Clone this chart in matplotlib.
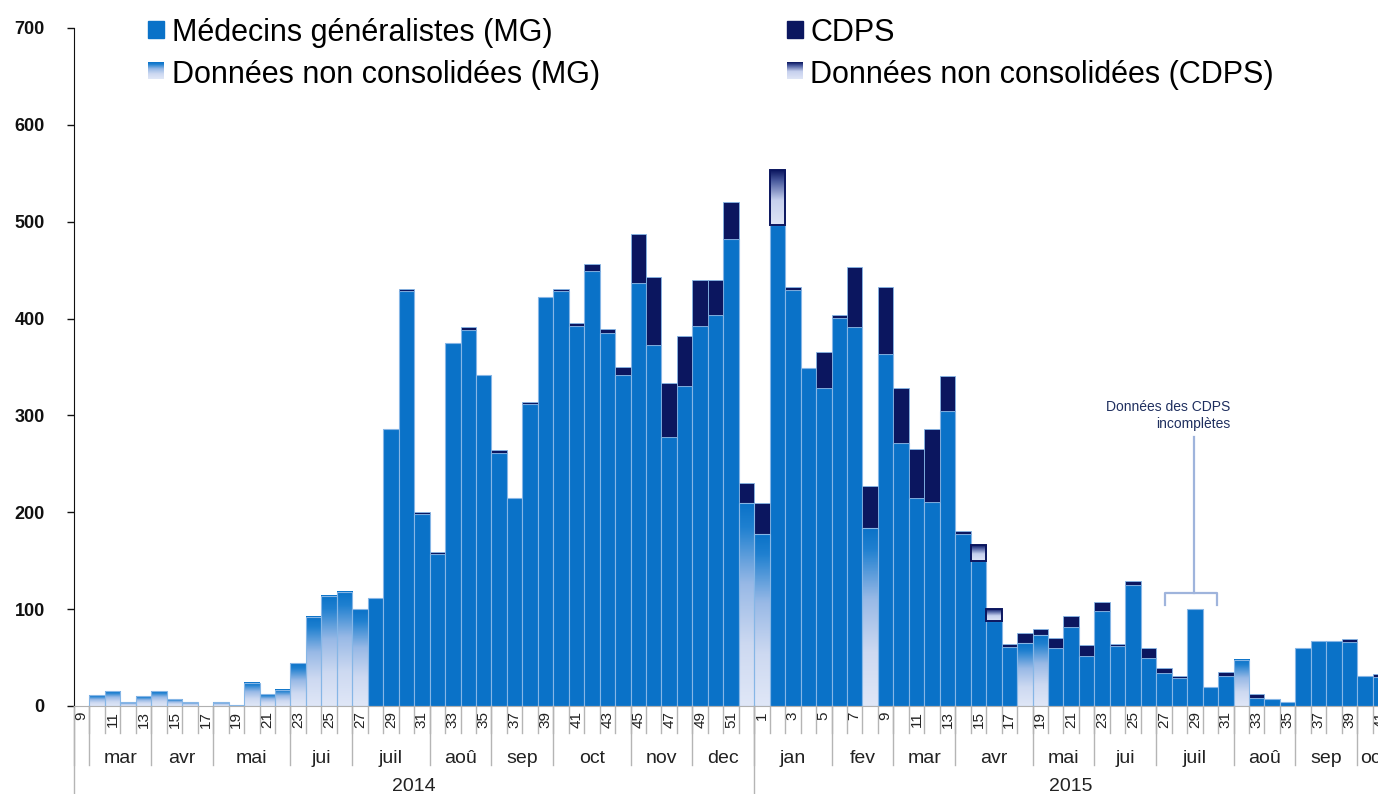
import datetime
import numpy as np
import matplotlib
matplotlib.use('Agg')
import matplotlib.pyplot as plt
from matplotlib.colors import LinearSegmentedColormap
from matplotlib.patches import Rectangle
from matplotlib.transforms import blended_transform_factory

plt.rcParams['font.family'] = ['Liberation Sans', 'DejaVu Sans']

# semaines : 2014-S09 -> 2015-S41
annees = [2014] * 44 + [2015] * 41
semaines = list(range(9, 53)) + list(range(1, 42))
mois_noms = ['jan', 'fev', 'mar', 'avr', 'mai', 'jui', 'juil', 'aoû', 'sep', 'oct', 'nov', 'dec']

# Medecins generalistes (consolide)
mg = [0,
      0, 0, 0, 0, 0, 0, 0, 0, 0, 0, 0, 0, 0, 0, 0, 0, 0, 0,
      112, 286, 428, 198, 157, 375, 388, 342, 261, 215, 312, 422,
      428, 392, 449, 385, 342, 437, 373, 278, 330, 392, 404, 482,
      0,
      # 2015
      0, 497, 430, 349, 328, 401, 391, 0, 363, 272, 215, 211, 305, 178,
      150, 88, 61, 0, 0, 60, 82, 52, 98, 62, 125, 50, 34, 29, 100, 20,
      31, 0, 8, 7, 4, 60, 67, 67, 66, 31, 30]
# Medecins generalistes (donnees non consolidees)
mg_nc = [0,
         11, 15, 4, 10, 15, 7, 4, 0, 4, 1, 24, 12, 17, 44, 92, 114, 118, 100,
         0, 0, 0, 0, 0, 0, 0, 0, 0, 0, 0, 0,
         0, 0, 0, 0, 0, 0, 0, 0, 0, 0, 0, 0,
         210,
         # 2015
         178, 0, 0, 0, 0, 0, 0, 184, 0, 0, 0, 0, 0, 0,
         0, 0, 0, 65, 73, 0, 0, 0, 0, 0, 0, 0, 0, 0, 0, 0,
         0, 48, 0, 0, 0, 0, 0, 0, 0, 0, 0]
# CDPS (consolide)
cdps = [0,
        0, 0, 0, 0, 0, 0, 0, 0, 0, 0, 0, 0, 0, 0, 0, 0, 0, 0,
        0, 0, 3, 2, 2, 0, 3, 0, 3, 0, 2, 0,
        3, 3, 7, 4, 8, 50, 70, 55, 52, 48, 36, 38,
        20,
        # 2015
        32, 0, 3, 0, 37, 3, 62, 43, 70, 56, 50, 75, 36, 3,
        0, 0, 3, 10, 6, 10, 11, 11, 9, 2, 4, 10, 5, 2, 0, 0,
        4, 0, 4, 0, 0, 0, 0, 0, 3, 0, 3]
# CDPS (donnees non consolidees)
cdps_nc = [0] * 44 + [0, 56] + [0] * 12 + [16, 12] + [0] * 25

bleu = '#0a72c8'
marine = '#0b165f'
bord = '#86b6e6'
cm_mg = LinearSegmentedColormap.from_list(
    'mg', [(0, '#e0e7f7'), (0.3, '#cdd9f1'), (0.6, '#98b9e6'), (0.88, '#1f80d0'), (1, bleu)])
cm_cdps = LinearSegmentedColormap.from_list(
    'cdps', [(0, '#dfe5f6'), (0.45, '#c6d0ee'), (0.8, '#4b5c9f'), (1, marine)])

fig = plt.figure(figsize=(13.78, 7.94), dpi=100)
ax = fig.add_axes([74 / 1378, 88 / 794, 1304 / 1378, 678 / 794])

x = np.arange(len(semaines))
mg = np.array(mg)
mg_nc = np.array(mg_nc)
cdps = np.array(cdps)
cdps_nc = np.array(cdps_nc)
base = mg + mg_nc


def barre_degrade(xi, bas, h, cmap, bordure, lw):
    ax.imshow(np.linspace(0, 1, 200).reshape(-1, 1), cmap=cmap, aspect='auto',
              origin='lower', extent=(xi - 0.5, xi + 0.5, bas, bas + h), zorder=2)
    ax.bar(xi, h, bottom=bas, width=1, color='none', edgecolor=bordure, lw=lw, zorder=3)


m = mg > 0
ax.bar(x[m], mg[m], width=1, color=bleu, edgecolor=bord, lw=0.8, zorder=2)
for i in np.where(mg_nc > 0)[0]:
    barre_degrade(i, 0, mg_nc[i], cm_mg, bord, 0.8)
m = cdps > 0
ax.bar(x[m], cdps[m], bottom=base[m], width=1, color=marine, edgecolor=bord, lw=0.6, zorder=2)
for i in np.where(cdps_nc > 0)[0]:
    barre_degrade(i, base[i] + cdps[i], cdps_nc[i], cm_cdps, marine, 1.4)

ax.set_xlim(-0.5, -0.5 + 1304 / 15.46)
ax.set_ylim(0, 700)
ax.set_yticks(range(0, 701, 100))
ax.tick_params(axis='y', length=5, width=1, pad=16, labelsize=13, colors='#111111')
for lab in ax.get_yticklabels():
    lab.set_fontweight('bold')
ax.set_xticks([])
for s in ['top', 'right']:
    ax.spines[s].set_visible(False)
ax.spines['left'].set_color('#111111')
ax.spines['bottom'].set_color('#b0b0b0')

# axe des categories a plusieurs niveaux
tr = blended_transform_factory(ax.transData, ax.transAxes)
gris = '#b5b5b5'
for i in range(len(semaines)):
    ax.plot([i + 0.5, i + 0.5], [0, -0.040], color=gris, lw=1, transform=tr, clip_on=False)
    if semaines[i] % 2 == 1:
        ax.text(i, -0.008, str(semaines[i]), transform=tr, rotation=90, ha='center', va='top',
                fontsize=11, color='#222222')

mois = [datetime.date.fromisocalendar(a, s, 4).month for a, s in zip(annees, semaines)]
debut = 0
for i in range(1, len(semaines) + 1):
    if i == len(semaines) or mois[i] != mois[debut] or annees[i] != annees[debut]:
        ax.plot([debut - 0.5, debut - 0.5], [0, -0.087], color=gris, lw=1, transform=tr, clip_on=False)
        if i - debut >= 2:
            ax.text((debut + i - 1) / 2, -0.077, mois_noms[mois[debut] - 1], transform=tr,
                    ha='center', va='center', fontsize=14, color='#222222')
        debut = i

for an in [2014, 2015]:
    idx = [i for i, a in enumerate(annees) if a == an]
    ax.plot([idx[0] - 0.5, idx[0] - 0.5], [0, -0.13], color=gris, lw=1, transform=tr, clip_on=False)
    ax.text((idx[0] + idx[-1]) / 2, -0.119, str(an), transform=tr, ha='center', va='center',
            fontsize=14, color='#222222')

# note sur les CDPS
note = '#9fb4dc'
ax.plot([70.04, 70.04, 73.43, 73.43], [104, 116.5, 116.5, 104], color=note, lw=1.6, zorder=4)
ax.plot([71.94, 71.94], [116.5, 278], color=note, lw=1.6, zorder=4)
ax.text(74.3, 300, 'Données des CDPS\nincomplètes', ha='right', va='center', fontsize=10,
        color='#1f2f5f', linespacing=1.3)

# legende
def marque(xp, yp, cmap=None, couleur=None):
    if cmap is None:
        fig.patches.append(Rectangle((xp / 1378, 1 - (yp + 17) / 794), 16 / 1378, 17 / 794,
                                     transform=fig.transFigure, color=couleur))
    else:
        a = fig.add_axes([xp / 1378, 1 - (yp + 17) / 794, 16 / 1378, 17 / 794])
        a.imshow(np.linspace(0, 1, 50).reshape(-1, 1), cmap=cmap, aspect='auto', origin='lower')
        a.axis('off')


marque(148, 21, couleur=bleu)
marque(148, 62, cmap=cm_mg)
marque(787, 21, couleur=marine)
marque(787, 62, cmap=cm_cdps)
fig.text(172 / 1378, 1 - 41 / 794, 'Médecins généralistes (MG)', fontsize=22, va='baseline')
fig.text(172 / 1378, 1 - 83 / 794, 'Données non consolidées (MG)', fontsize=22, va='baseline')
fig.text(810 / 1378, 1 - 41 / 794, 'CDPS', fontsize=22, va='baseline')
fig.text(810 / 1378, 1 - 83 / 794, 'Données non consolidées (CDPS)', fontsize=22, va='baseline')

fig.savefig('out.png', dpi=100)
